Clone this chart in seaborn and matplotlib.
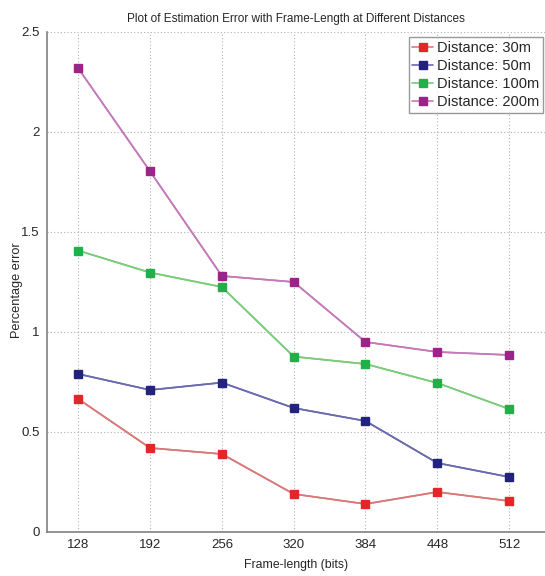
import numpy as np
import pandas as pd
import matplotlib
matplotlib.use("Agg")
import matplotlib.pyplot as plt
import seaborn as sns

# --- datos ---
frame_lengths = [128, 192, 256, 320, 384, 448, 512]
err_30m = [0.665, 0.42, 0.39, 0.19, 0.14, 0.20, 0.155]
err_50m = [0.79, 0.71, 0.747, 0.62, 0.555, 0.345, 0.275]
err_100m = [1.407, 1.297, 1.225, 0.877, 0.84, 0.745, 0.615]
err_200m = [2.318, 1.803, 1.28, 1.25, 0.95, 0.90, 0.885]

series_labels = ["Distance: 30m", "Distance: 50m", "Distance: 100m", "Distance: 200m"]
marker_colors = ["#e3262a", "#23237f", "#1fb04a", "#9c2387"]
line_colors = ["#d97a7a", "#6a6ab0", "#7acb7a", "#c47ab8"]

df = pd.DataFrame({
    "frame": frame_lengths * 4,
    "error": err_30m + err_50m + err_100m + err_200m,
    "serie": np.repeat(series_labels, len(frame_lengths)),
})

sns.set_style("white")
plt.rcParams["font.family"] = ["Liberation Sans", "DejaVu Sans"]

fig = plt.figure(figsize=(5.45, 5.76), dpi=100)
ax = fig.add_axes([0.086, 0.0764, 0.914, 0.8681])

sns.lineplot(data=df, x="frame", y="error", hue="serie", hue_order=series_labels,
             palette=dict(zip(series_labels, line_colors)), linewidth=1.2, ax=ax, legend=False)

# marcadores cuadrados por encima de las lineas
for lab, mc, lc in zip(series_labels, marker_colors, line_colors):
    sub = df[df["serie"] == lab]
    ax.plot(sub["frame"], sub["error"], color=lc, linewidth=1.2, marker="s",
            markersize=6, markerfacecolor=mc, markeredgecolor=mc, label=lab)

ax.set_xlim(100, 544)
ax.set_ylim(0, 2.5)
ax.set_xticks(frame_lengths)
ax.set_yticks([0, 0.5, 1, 1.5, 2, 2.5])
ax.set_yticklabels(["0", "0.5", "1", "1.5", "2", "2.5"])
ax.tick_params(axis="both", direction="in", length=4, labelsize=9.5, color="#808080", pad=5)

ax.grid(True, linestyle=(0, (1, 2)), color="#b0b0b0", linewidth=0.8)
for side in ["top", "right"]:
    ax.spines[side].set_visible(False)
for side in ["left", "bottom"]:
    ax.spines[side].set_color("#808080")
    ax.spines[side].set_linewidth(1.2)

ax.set_title("Plot of Estimation Error with Frame-Length at Different Distances", fontsize=8.5, pad=7)
ax.set_xlabel("Frame-length (bits)", fontsize=8.8, labelpad=6)
ax.set_ylabel("Percentage error", fontsize=9.2)
ax.yaxis.set_label_coords(-0.048, 0.484)

leg = ax.legend(loc="upper right", bbox_to_anchor=(0.996, 0.99), borderaxespad=0, frameon=True,
                fontsize=10.5, fancybox=False, handlelength=1.4, borderpad=0.25,
                labelspacing=0.28, handletextpad=0.3)
leg.get_frame().set_edgecolor("#808080")
leg.get_frame().set_linewidth(1.0)

fig.savefig("out.png", dpi=100)
